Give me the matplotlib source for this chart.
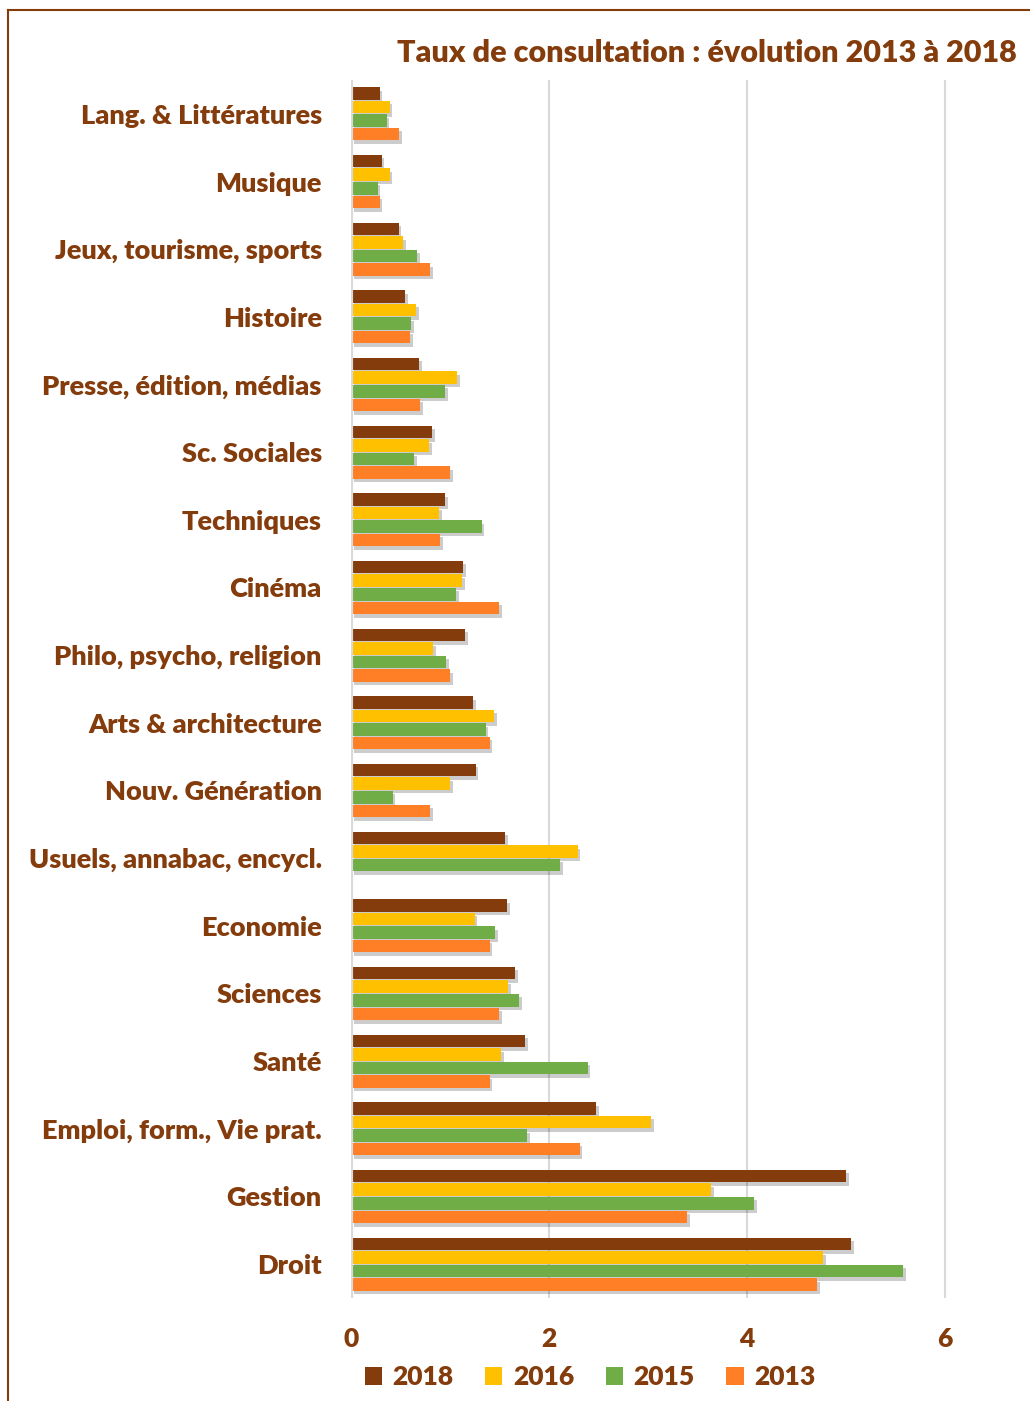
import numpy as np
import matplotlib
matplotlib.use("Agg")
import matplotlib.pyplot as plt
import matplotlib.patheffects as pe
from matplotlib.lines import Line2D

plt.rcParams['font.family'] = ['Lato', 'DejaVu Sans']

categories = ["Lang. & Littératures", "Musique", "Jeux, tourisme, sports", "Histoire",
              "Presse, édition, médias", "Sc. Sociales", "Techniques", "Cinéma",
              "Philo, psycho, religion", "Arts & architecture", "Nouv. Génération",
              "Usuels, annabac, encycl.", "Economie", "Sciences", "Santé",
              "Emploi, form., Vie prat.", "Gestion", "Droit"]
v2018 = [0.29, 0.31, 0.48, 0.55, 0.69, 0.82, 0.95, 1.13, 1.15, 1.23, 1.26, 1.56, 1.58, 1.66, 1.76, 2.48, 5.00, 5.05]
v2016 = [0.39, 0.39, 0.53, 0.66, 1.07, 0.79, 0.89, 1.12, 0.83, 1.45, 1.00, 2.29, 1.25, 1.59, 1.52, 3.03, 3.64, 4.77]
v2015 = [0.36, 0.27, 0.67, 0.61, 0.95, 0.64, 1.32, 1.06, 0.96, 1.36, 0.42, 2.11, 1.46, 1.70, 2.39, 1.78, 4.07, 5.58]
v2013 = [0.49, 0.29, 0.80, 0.60, 0.70, 1.00, 0.90, 1.50, 1.00, 1.40, 0.80, None, 1.40, 1.50, 1.40, 2.31, 3.40, 4.71]
series_names = ["2018", "2016", "2015", "2013"]
xticks = [0, 2, 4, 6]
title = "Taux de consultation : évolution 2013 à 2018"

colors = ["#843C0C", "#FFC000", "#70AD47", "#FF7F27"]
txt = "#843C0C"
W = 'heavy'

fig = plt.figure(figsize=(10.3, 14.01), dpi=100)
ax = fig.add_axes([351/1030, 1 - 1298/1401, 668/1030, (1298 - 80)/1401])

n = len(categories)
y = np.arange(n)
bh = 0.2
shadow = [pe.SimplePatchShadow(offset=(2, -2.5), shadow_rgbFace='black', alpha=0.2), pe.Normal()]
for i, (name, vals, c) in enumerate(zip(series_names, [v2018, v2016, v2015, v2013], colors)):
    arr = np.array([np.nan if v is None else v for v in vals], dtype=float)
    offs = (i - 1.5) * bh
    bars = ax.barh(y + offs, np.nan_to_num(arr), height=bh * 0.93, color=c, label=name,
                   zorder=3, edgecolor='none')
    for b, v in zip(bars, arr):
        if np.isnan(v):
            b.set_visible(False)
        b.set_path_effects(shadow)

ax.set_ylim(n - 0.5, -0.5)
ax.set_xlim(0, 6.75)
ax.set_yticks(y)
ax.set_yticklabels(categories, fontsize=19.5, fontweight=W, color=txt)
ax.set_xticks(xticks)
ax.set_xticklabels([str(t) for t in xticks], fontsize=19, fontweight=W, color=txt)
ax.tick_params(axis='both', length=0)
ax.tick_params(axis='y', pad=21)
ax.tick_params(axis='x', pad=21)
for s in ax.spines.values():
    s.set_visible(False)
ax.grid(axis='x', color='#D9D9D9', linewidth=1.5, zorder=0)
ax.axvline(0, color='#D9D9D9', linewidth=3, zorder=4)
ax.set_axisbelow(True)

fig.text(1017/1030, 1 - 53/1401, title, ha='right', va='center', fontsize=22,
         fontweight=W, color=txt)

handles, labels = ax.get_legend_handles_labels()
leg = fig.legend(handles, labels, loc='center', bbox_to_anchor=(590/1030, 1 - 1377/1401), ncol=4,
                 frameon=False, prop={'size': 19, 'weight': W}, handlelength=0.65,
                 handleheight=0.65, handletextpad=0.4, columnspacing=1.2)
for t in leg.get_texts():
    t.set_color(txt)
for h in leg.legend_handles:
    h.set_path_effects([])

# chart border (left and top)
fig.add_artist(Line2D([8/1030, 8/1030], [0, 1 - 10/1401], color=txt, linewidth=1.5,
                      transform=fig.transFigure))
fig.add_artist(Line2D([8/1030, 1], [1 - 10/1401, 1 - 10/1401], color=txt, linewidth=1.5,
                      transform=fig.transFigure))

fig.savefig("out.png", dpi=100)
